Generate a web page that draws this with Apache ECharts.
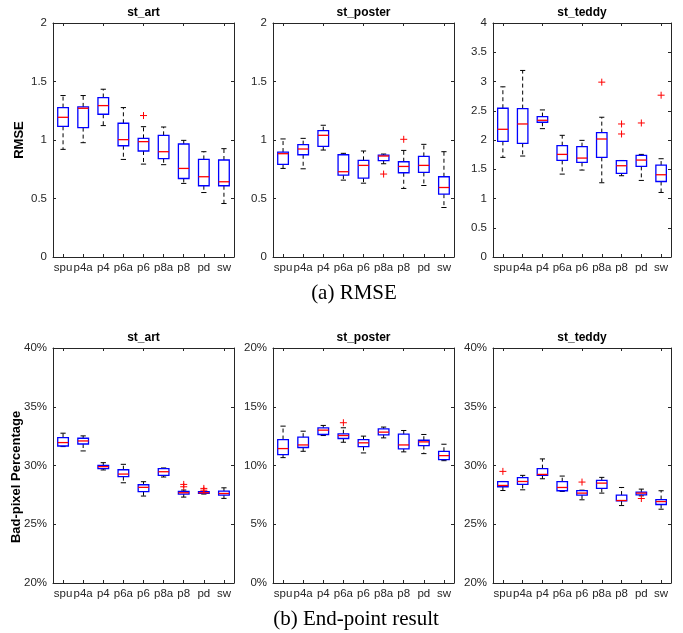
<!DOCTYPE html>
<html>
<head>
<meta charset="utf-8">
<script src="https://cdn.jsdelivr.net/npm/echarts@6/dist/echarts.min.js"></script>
<style>html,body{margin:0;padding:0;background:#fff;}#c{width:683px;height:633px;}</style>
</head>
<body>
<div id="c"></div>
<script>
// ---------- data ----------
const categories = ['spu','p4a','p4','p6a','p6','p8a','p8','pd','sw'];
const panelTitles = ['st_art','st_poster','st_teddy','st_art','st_poster','st_teddy'];
const captionTop = '(a) RMSE';
const captionBottom = '(b) End-point result';
const yNameTop = 'RMSE';
const yNameBottom = 'Bad-pixel Percentage';

// each row: [lower whisker, Q1, median, Q3, upper whisker]
const rmseArt = [
  [0.92,1.117,1.194,1.277,1.38],
  [0.977,1.106,1.271,1.283,1.38],
  [1.123,1.22,1.294,1.363,1.434],
  [0.834,0.951,1.003,1.143,1.277],
  [0.794,0.906,0.986,1.014,1.114],
  [0.789,0.84,0.90,1.04,1.111],
  [0.629,0.671,0.757,0.966,0.997],
  [0.551,0.609,0.686,0.834,0.90],
  [0.457,0.609,0.643,0.829,0.926]
];
const rmseArtOut = [['p6',1.209]];

const rmsePoster = [
  [0.757,0.791,0.883,0.897,1.009],
  [0.754,0.874,0.923,0.96,1.014],
  [0.914,0.946,1.04,1.08,1.126],
  [0.657,0.70,0.729,0.874,0.886],
  [0.631,0.674,0.783,0.826,0.906],
  [0.797,0.823,0.863,0.871,0.88],
  [0.586,0.72,0.774,0.814,0.911],
  [0.611,0.723,0.783,0.86,0.963],
  [0.423,0.537,0.594,0.686,0.90]
];
const rmsePosterOut = [['p8a',0.709],['p8',1.006]];

const rmseTeddy = [
  [1.703,1.977,2.183,2.543,2.909],
  [1.726,1.943,2.274,2.537,3.189],
  [2.194,2.303,2.337,2.40,2.514],
  [1.417,1.651,1.754,1.903,2.08],
  [1.486,1.617,1.691,1.886,1.994],
  [1.269,1.703,2.017,2.126,2.389],
  [1.389,1.429,1.56,1.646,1.65],
  [1.309,1.549,1.657,1.737,1.754],
  [1.103,1.291,1.406,1.571,1.68]
];
const rmseTeddyOut = [['p8a',2.989],['p8',2.274],['p8',2.103],['pd',2.291],['sw',2.766]];

const badArt = [
  [31.61,31.66,31.95,32.38,32.75],
  [31.24,31.83,32.09,32.32,32.52],
  [29.62,29.73,29.90,30.01,30.24],
  [28.53,29.05,29.27,29.64,30.10],
  [27.40,27.77,28.14,28.36,28.62],
  [29.02,29.16,29.47,29.73,29.79],
  [27.31,27.57,27.68,27.80,27.91],
  [27.57,27.62,27.68,27.77,27.77],
  [27.20,27.48,27.62,27.82,28.10]
];
const badArtOut = [['p8',28.39],['p8',28.19],['pd',28.05],['pd',27.90]];

const badPoster = [
  [10.67,10.93,11.44,12.21,13.35],
  [11.21,11.53,11.75,12.41,12.92],
  [12.55,12.64,13.01,13.21,13.41],
  [11.98,12.30,12.55,12.70,13.21],
  [11.07,11.61,11.93,12.21,12.50],
  [12.35,12.61,12.84,13.12,13.27],
  [11.16,11.41,11.75,12.67,12.98],
  [11.01,11.70,12.01,12.15,12.64],
  [10.41,10.50,10.84,11.21,11.81]
];
const badPosterOut = [['p6a',13.64]];

const badTeddy = [
  [27.87,28.19,28.30,28.62,28.64],
  [27.93,28.39,28.64,28.96,29.16],
  [28.87,29.16,29.24,29.73,30.56],
  [27.79,27.85,28.13,28.62,29.10],
  [27.08,27.48,27.65,27.87,27.90],
  [27.65,28.05,28.50,28.73,28.99],
  [26.59,26.99,27.02,27.48,28.13],
  [27.42,27.50,27.65,27.73,27.99],
  [26.28,26.68,26.93,27.10,27.85]
];
const badTeddyOut = [['spu',29.50],['p6',28.59],['pd',27.19]];

const yRanges = [[0,2,0.5],[0,2,0.5],[0,4,0.5],[20,40,5],[0,20,5],[20,40,5]];

// ---------- layout ----------
const stats = [rmseArt, rmsePoster, rmseTeddy, badArt, badPoster, badTeddy];
const outs = [rmseArtOut, rmsePosterOut, rmseTeddyOut, badArtOut, badPosterOut, badTeddyOut];
const gridLefts = [53, 273, 493];
const gridWidths = [181, 181, 178];
const gridTops = [23, 348];
const gridHeights = [234, 235];

const axisColor = '#262626';
const font = 'Liberation Sans, Arial, sans-serif';

const grids = [], xAxes = [], yAxes = [], series = [], graphics = [];

function renderBox(params, api) {
  const x = api.value(0);
  const lo = api.coord([x, api.value(1)]);
  const q1 = api.coord([x, api.value(2)]);
  const md = api.coord([x, api.value(3)]);
  const q3 = api.coord([x, api.value(4)]);
  const hi = api.coord([x, api.value(5)]);
  const band = api.size([1, 0])[0];
  const bw = band * 0.53;
  const cw = band * 0.26;
  const cx = lo[0];
  const dashStyle = {stroke: '#000', lineWidth: 1, lineDash: [4, 3]};
  const solid = {stroke: '#000', lineWidth: 1};
  return {
    type: 'group',
    children: [
      {type: 'line', shape: {x1: cx, y1: q3[1], x2: cx, y2: hi[1]}, style: dashStyle},
      {type: 'line', shape: {x1: cx, y1: q1[1], x2: cx, y2: lo[1]}, style: dashStyle},
      {type: 'line', shape: {x1: cx - cw/2, y1: hi[1], x2: cx + cw/2, y2: hi[1]}, style: solid},
      {type: 'line', shape: {x1: cx - cw/2, y1: lo[1], x2: cx + cw/2, y2: lo[1]}, style: solid},
      {type: 'rect', shape: {x: cx - bw/2, y: q3[1], width: bw, height: q1[1] - q3[1]},
        style: {fill: 'none', stroke: '#0000ff', lineWidth: 1.3}},
      {type: 'line', shape: {x1: cx - bw/2, y1: md[1], x2: cx + bw/2, y2: md[1]},
        style: {stroke: '#ff0000', lineWidth: 1.3}}
    ]
  };
}

function renderOut(params, api) {
  const p = api.coord([api.value(0), api.value(1)]);
  const s = 3.5;
  return {
    type: 'group',
    children: [
      {type: 'line', shape: {x1: p[0]-s, y1: p[1], x2: p[0]+s, y2: p[1]}, style: {stroke: '#ff0000', lineWidth: 1}},
      {type: 'line', shape: {x1: p[0], y1: p[1]-s, x2: p[0], y2: p[1]+s}, style: {stroke: '#ff0000', lineWidth: 1}}
    ]
  };
}

for (let i = 0; i < 6; i++) {
  const col = i % 3, row = Math.floor(i / 3);
  grids.push({left: gridLefts[col], top: gridTops[row], width: gridWidths[col], height: gridHeights[row], containLabel: false});
  const pct = row === 1;
  const [ymin, ymax, yint] = yRanges[i];
  // bottom x axis
  xAxes.push({
    type: 'category', gridIndex: i, data: categories, position: 'bottom',
    boundaryGap: true,
    axisLine: {show: true, onZero: false, lineStyle: {color: axisColor, width: 1}},
    axisTick: {show: true, inside: true, alignWithLabel: true, length: 3, lineStyle: {color: axisColor}},
    axisLabel: {show: true, interval: 0, color: axisColor, fontFamily: font, fontSize: 11.5, margin: 5},
    splitLine: {show: false}
  });
  // top x axis (ticks only)
  xAxes.push({
    type: 'category', gridIndex: i, data: categories, position: 'top',
    boundaryGap: true,
    axisLine: {show: true, onZero: false, lineStyle: {color: axisColor, width: 1}},
    axisTick: {show: true, inside: true, alignWithLabel: true, length: 3, lineStyle: {color: axisColor}},
    axisLabel: {show: false}, splitLine: {show: false}
  });
  yAxes.push({
    type: 'value', gridIndex: i, min: ymin, max: ymax, interval: yint, position: 'left',
    axisLine: {show: true, onZero: false, lineStyle: {color: axisColor, width: 1}},
    axisTick: {show: true, inside: true, length: 3, lineStyle: {color: axisColor}},
    axisLabel: {show: true, color: axisColor, fontFamily: font, fontSize: 11.5, margin: 6,
      formatter: pct ? (v => v + '%') : (v => String(v))},
    splitLine: {show: false}
  });
  yAxes.push({
    type: 'value', gridIndex: i, min: ymin, max: ymax, interval: yint, position: 'right',
    axisLine: {show: true, onZero: false, lineStyle: {color: axisColor, width: 1}},
    axisTick: {show: true, inside: true, length: 3, lineStyle: {color: axisColor}},
    axisLabel: {show: false}, splitLine: {show: false}
  });
  series.push({
    type: 'custom', xAxisIndex: 2*i, yAxisIndex: 2*i,
    renderItem: renderBox,
    encode: {x: 0, y: [1,2,3,4,5]},
    data: stats[i].map((s, k) => [k].concat(s)),
    clip: false, silent: true
  });
  series.push({
    type: 'custom', xAxisIndex: 2*i, yAxisIndex: 2*i,
    renderItem: renderOut,
    encode: {x: 0, y: 1},
    data: outs[i].map(o => [categories.indexOf(o[0]), o[1]]),
    clip: false, silent: true
  });
  graphics.push({
    type: 'text',
    x: gridLefts[col] + gridWidths[col] / 2,
    y: row === 0 ? 13 : 338,
    style: {text: panelTitles[i], fill: '#000', font: 'bold 12px ' + font, align: 'center', verticalAlign: 'middle'}
  });
}

graphics.push({type: 'text', x: 19, y: 140, rotation: Math.PI / 2,
  style: {text: yNameTop, fill: '#000', font: 'bold 13px ' + font, align: 'center', verticalAlign: 'middle'}});
graphics.push({type: 'text', x: 16, y: 477, rotation: Math.PI / 2,
  style: {text: yNameBottom, fill: '#000', font: 'bold 13px ' + font, align: 'center', verticalAlign: 'middle'}});
graphics.push({type: 'text', x: 354, y: 293,
  style: {text: captionTop, fill: '#000', font: '21px "Liberation Serif", "Times New Roman", serif', align: 'center', verticalAlign: 'middle'}});
graphics.push({type: 'text', x: 356, y: 619,
  style: {text: captionBottom, fill: '#000', font: '21px "Liberation Serif", "Times New Roman", serif', align: 'center', verticalAlign: 'middle'}});

const chart = echarts.init(document.getElementById('c'), null, {renderer: 'canvas'});
chart.setOption({
  backgroundColor: '#fff',
  animation: false,
  grid: grids,
  xAxis: xAxes,
  yAxis: yAxes,
  series: series,
  graphic: graphics
});
</script>
</body>
</html>
